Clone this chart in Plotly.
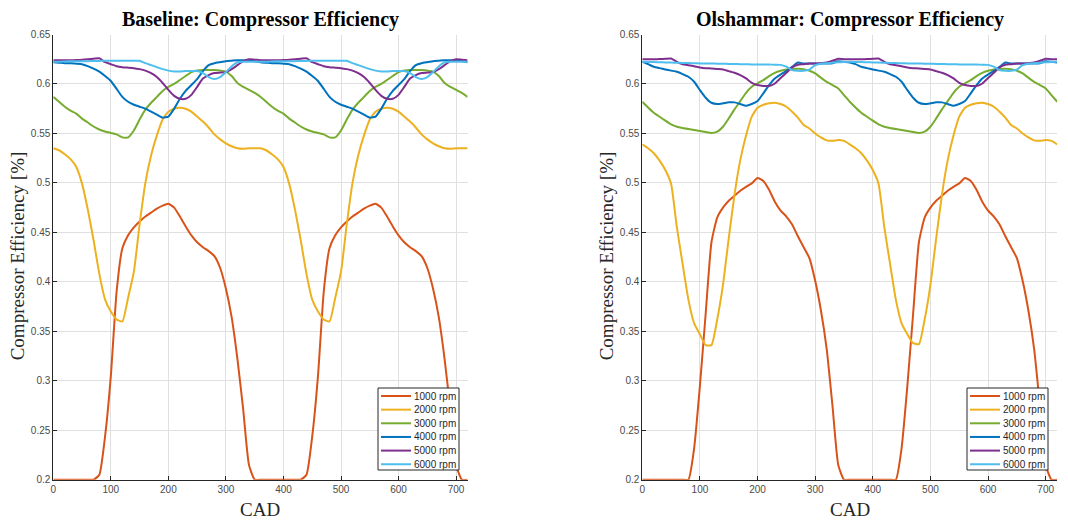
import plotly.graph_objects as go

# Crank angle grid (deg), two engine cycles
cad = list(range(0, 721, 10))

speeds = ["1000 rpm", "2000 rpm", "3000 rpm", "4000 rpm", "5000 rpm", "6000 rpm"]
colors = ["#D95319", "#EDB120", "#77AC30", "#0072BD", "#7E2F8E", "#4DBEEE"]

# ---- Baseline compressor efficiency [-] ----
base_1000 = [0.2, 0.2, 0.2, 0.2, 0.2, 0.2, 0.2, 0.2, 0.205, 0.244, 0.305, 0.39, 0.434, 0.447, 0.455, 0.461, 0.466, 0.470, 0.474, 0.477, 0.479, 0.475, 0.466, 0.456, 0.447, 0.440, 0.435, 0.431, 0.426, 0.414, 0.393, 0.364, 0.322, 0.271, 0.215, 0.2, 0.2,
             0.2, 0.2, 0.2, 0.2, 0.2, 0.2, 0.2, 0.205, 0.244, 0.305, 0.39, 0.434, 0.447, 0.455, 0.461, 0.466, 0.470, 0.474, 0.477, 0.479, 0.475, 0.466, 0.456, 0.447, 0.440, 0.435, 0.431, 0.426, 0.414, 0.393, 0.364, 0.322, 0.271, 0.215, 0.2, 0.2]
base_2000 = [0.535, 0.533, 0.529, 0.524, 0.516, 0.499, 0.473, 0.442, 0.408, 0.382, 0.370, 0.362, 0.360, 0.384, 0.410, 0.458, 0.500, 0.528, 0.548, 0.564, 0.572, 0.575, 0.576, 0.575, 0.572, 0.567, 0.562, 0.556, 0.549, 0.544, 0.540, 0.537, 0.535, 0.5345, 0.535, 0.535, 0.535,
             0.533, 0.529, 0.524, 0.516, 0.499, 0.473, 0.442, 0.408, 0.382, 0.370, 0.362, 0.360, 0.384, 0.410, 0.458, 0.500, 0.528, 0.548, 0.564, 0.572, 0.575, 0.576, 0.575, 0.572, 0.567, 0.562, 0.556, 0.549, 0.544, 0.540, 0.537, 0.535, 0.5345, 0.535, 0.535, 0.535]
base_3000 = [0.587, 0.582, 0.577, 0.573, 0.570, 0.565, 0.561, 0.557, 0.554, 0.552, 0.5505, 0.549, 0.546, 0.546, 0.553, 0.564, 0.574, 0.581, 0.587, 0.593, 0.597, 0.600, 0.604, 0.608, 0.612, 0.6135, 0.614, 0.614, 0.614, 0.6135, 0.6125, 0.608, 0.601, 0.597, 0.594, 0.591, 0.587,
             0.582, 0.577, 0.573, 0.570, 0.565, 0.561, 0.557, 0.554, 0.552, 0.5505, 0.549, 0.546, 0.546, 0.553, 0.564, 0.574, 0.581, 0.587, 0.593, 0.597, 0.600, 0.604, 0.608, 0.612, 0.6135, 0.614, 0.614, 0.614, 0.6135, 0.6125, 0.608, 0.601, 0.597, 0.594, 0.591, 0.587]
base_4000 = [0.622, 0.6215, 0.621, 0.621, 0.6205, 0.620, 0.618, 0.6155, 0.6125, 0.608, 0.603, 0.595, 0.587, 0.582, 0.579, 0.577, 0.575, 0.572, 0.569, 0.566, 0.567, 0.575, 0.585, 0.593, 0.599, 0.605, 0.613, 0.619, 0.621, 0.622, 0.623, 0.6235, 0.624, 0.624, 0.6235, 0.623, 0.622,
             0.6215, 0.621, 0.621, 0.6205, 0.620, 0.618, 0.6155, 0.6125, 0.608, 0.603, 0.595, 0.587, 0.582, 0.579, 0.577, 0.575, 0.572, 0.569, 0.566, 0.567, 0.575, 0.585, 0.593, 0.599, 0.605, 0.613, 0.619, 0.621, 0.622, 0.623, 0.6235, 0.624, 0.624, 0.6235, 0.623, 0.622]
base_5000 = [0.624, 0.624, 0.624, 0.624, 0.6242, 0.6245, 0.625, 0.6255, 0.626, 0.622, 0.620, 0.618, 0.617, 0.6165, 0.616, 0.615, 0.6135, 0.611, 0.607, 0.601, 0.594, 0.588, 0.585, 0.585, 0.589, 0.597, 0.6055, 0.609, 0.611, 0.6115, 0.612, 0.615, 0.619, 0.623, 0.625, 0.6245, 0.624,
             0.624, 0.624, 0.624, 0.6242, 0.6245, 0.625, 0.6255, 0.626, 0.622, 0.620, 0.618, 0.617, 0.6165, 0.616, 0.615, 0.6135, 0.611, 0.607, 0.601, 0.594, 0.588, 0.585, 0.585, 0.589, 0.597, 0.6055, 0.609, 0.611, 0.6115, 0.612, 0.615, 0.619, 0.623, 0.625, 0.6245, 0.624]
base_6000 = [0.6225, 0.6225, 0.6228, 0.623, 0.623, 0.623, 0.623, 0.6232, 0.6233, 0.6234, 0.6235, 0.6235, 0.6235, 0.6235, 0.6235, 0.6235, 0.621, 0.619, 0.617, 0.615, 0.6135, 0.6127, 0.6125, 0.613, 0.613, 0.613, 0.611, 0.607, 0.605, 0.607, 0.612, 0.618, 0.622, 0.6225, 0.6225, 0.6225, 0.6225,
             0.6225, 0.6228, 0.623, 0.623, 0.623, 0.623, 0.6232, 0.6233, 0.6234, 0.6235, 0.6235, 0.6235, 0.6235, 0.6235, 0.6235, 0.621, 0.619, 0.617, 0.615, 0.6135, 0.6127, 0.6125, 0.613, 0.613, 0.613, 0.611, 0.607, 0.605, 0.607, 0.612, 0.618, 0.622, 0.6225, 0.6225, 0.6225, 0.6225]

# ---- Olshammar compressor efficiency [-] ----
olsh_1000 = [0.2, 0.2, 0.2, 0.2, 0.2, 0.2, 0.2, 0.2, 0.2, 0.232, 0.295, 0.368, 0.440, 0.465, 0.475, 0.482, 0.487, 0.492, 0.496, 0.4995, 0.505, 0.502, 0.493, 0.481, 0.472, 0.466, 0.458, 0.446, 0.435, 0.424, 0.401, 0.371, 0.332, 0.275, 0.215, 0.2, 0.2,
             0.2, 0.2, 0.2, 0.2, 0.2, 0.2, 0.2, 0.2, 0.232, 0.295, 0.368, 0.440, 0.465, 0.475, 0.482, 0.487, 0.492, 0.496, 0.4995, 0.505, 0.502, 0.493, 0.481, 0.472, 0.466, 0.458, 0.446, 0.435, 0.424, 0.401, 0.371, 0.332, 0.275, 0.215, 0.2, 0.2]
olsh_2000 = [0.539, 0.535, 0.530, 0.5225, 0.513, 0.499, 0.455, 0.418, 0.382, 0.358, 0.347, 0.336, 0.336, 0.362, 0.397, 0.444, 0.488, 0.523, 0.548, 0.567, 0.576, 0.579, 0.5805, 0.581, 0.5797, 0.577, 0.572, 0.566, 0.5585, 0.555, 0.550, 0.546, 0.543, 0.5425, 0.5434, 0.5425, 0.539,
             0.535, 0.530, 0.5225, 0.513, 0.499, 0.455, 0.418, 0.382, 0.358, 0.347, 0.338, 0.337, 0.362, 0.397, 0.444, 0.488, 0.523, 0.548, 0.567, 0.576, 0.579, 0.5805, 0.581, 0.5797, 0.577, 0.572, 0.566, 0.5585, 0.555, 0.550, 0.546, 0.543, 0.5425, 0.5434, 0.5425, 0.539]
olsh_3000 = [0.582, 0.5763, 0.571, 0.5669, 0.5629, 0.5592, 0.5568, 0.5555, 0.5545, 0.5535, 0.5525, 0.5514, 0.5504, 0.5518, 0.5568, 0.5652, 0.5743, 0.5827, 0.5911, 0.5972, 0.6006, 0.6039, 0.608, 0.6113, 0.6133, 0.6147, 0.615, 0.6154, 0.615, 0.6133, 0.6106, 0.6063, 0.6022, 0.5989, 0.5955, 0.5888, 0.582,
             0.5763, 0.571, 0.5669, 0.5629, 0.5592, 0.5568, 0.5555, 0.5545, 0.5535, 0.5525, 0.5514, 0.5504, 0.5518, 0.5568, 0.5652, 0.5743, 0.5827, 0.5911, 0.5972, 0.6006, 0.6039, 0.608, 0.6113, 0.6133, 0.6147, 0.615, 0.6154, 0.615, 0.6133, 0.6106, 0.6063, 0.6022, 0.5989, 0.5955, 0.5888, 0.582]
olsh_4000 = [0.6224, 0.620, 0.6174, 0.616, 0.6147, 0.6135, 0.6123, 0.610, 0.6073, 0.6022, 0.5938, 0.5861, 0.581, 0.5797, 0.5804, 0.5814, 0.5814, 0.5797, 0.578, 0.5797, 0.5827, 0.5905, 0.5989, 0.6056, 0.6096, 0.6133, 0.6174, 0.6217, 0.6207, 0.6207, 0.6207, 0.6207, 0.6207, 0.621, 0.623, 0.6224, 0.6217,
             0.620, 0.6174, 0.616, 0.6147, 0.6135, 0.6123, 0.610, 0.6073, 0.6022, 0.5938, 0.5861, 0.581, 0.5797, 0.5804, 0.5814, 0.5814, 0.5797, 0.578, 0.5797, 0.5827, 0.5905, 0.5989, 0.6056, 0.6096, 0.6133, 0.6174, 0.6217, 0.6207, 0.6207, 0.6207, 0.6207, 0.6207, 0.621, 0.623, 0.6224, 0.6217]
olsh_5000 = [0.625, 0.625, 0.625, 0.6252, 0.6255, 0.6258, 0.6224, 0.620, 0.619, 0.618, 0.6167, 0.616, 0.6157, 0.6152, 0.6147, 0.613, 0.6113, 0.609, 0.6056, 0.6012, 0.5989, 0.598, 0.598, 0.6005, 0.606, 0.6113, 0.6167, 0.6194, 0.620, 0.6207, 0.6207, 0.621, 0.6217, 0.6234, 0.6254, 0.625, 0.625,
             0.625, 0.625, 0.6252, 0.6255, 0.6258, 0.6224, 0.620, 0.619, 0.618, 0.6167, 0.616, 0.6157, 0.6152, 0.6147, 0.613, 0.6113, 0.609, 0.6056, 0.6012, 0.5989, 0.598, 0.598, 0.6005, 0.606, 0.6113, 0.6167, 0.6194, 0.620, 0.6207, 0.6207, 0.621, 0.6217, 0.6234, 0.6254, 0.625, 0.625]
olsh_6000 = [0.6224, 0.6222, 0.6221, 0.622, 0.6218, 0.6216, 0.6215, 0.6213, 0.6211, 0.621, 0.6208, 0.6207, 0.6207, 0.6205, 0.6204, 0.6203, 0.6202, 0.620, 0.6199, 0.6198, 0.6198, 0.6197, 0.6196, 0.6195, 0.6193, 0.6175, 0.614, 0.6133, 0.6133, 0.6145, 0.619, 0.6205, 0.621, 0.6214, 0.6219, 0.6222, 0.6224,
             0.6222, 0.6221, 0.622, 0.6218, 0.6216, 0.6215, 0.6213, 0.6211, 0.621, 0.6208, 0.6207, 0.6207, 0.6205, 0.6204, 0.6203, 0.6202, 0.620, 0.6199, 0.6198, 0.6198, 0.6197, 0.6196, 0.6195, 0.6193, 0.6175, 0.614, 0.6133, 0.6133, 0.6145, 0.619, 0.6205, 0.621, 0.6214, 0.6219, 0.6222, 0.6224]

baseline = [base_1000, base_2000, base_3000, base_4000, base_5000, base_6000]
olshammar = [olsh_1000, olsh_2000, olsh_3000, olsh_4000, olsh_5000, olsh_6000]

W, H = 1068, 522
SERIF = "Liberation Serif, Times New Roman, serif"
SANS = "Liberation Sans, Arial, sans-serif"
INK = "#262626"

# plot-area placement in pixels: (left, right) per panel, shared (top, bottom)
panels = [(53.3, 467.6), (642.3, 1057.2)]
top_px, bot_px = 34.5, 479.7

fig = go.Figure()

for k, (series, axsuffix) in enumerate([(baseline, ""), (olshammar, "2")]):
    for name, col, vals in zip(speeds, colors, series):
        fig.add_trace(go.Scatter(
            x=cad, y=vals, mode="lines", name=name, showlegend=False,
            line=dict(color=col, width=2, shape="spline", smoothing=0.5),
            xaxis="x" + axsuffix, yaxis="y" + axsuffix,
        ))


def axis(domain, rng, dtick, anchor):
    return dict(
        domain=domain, range=rng, dtick=dtick, tick0=0, anchor=anchor,
        automargin=False,
        showline=True, linecolor=INK, linewidth=1, mirror=False,
        ticks="inside", ticklen=4, tickcolor=INK, tickwidth=1,
        showgrid=True, gridcolor="#e0e0e0", gridwidth=1, zeroline=False,
        tickfont=dict(family=SANS, size=10, color="#4a4a4a"),
        layer="below traces", fixedrange=True,
    )


ydom = [1 - bot_px / H, 1 - top_px / H]
layout = dict(
    width=W, height=H, margin=dict(l=0, r=0, t=0, b=0, pad=0, autoexpand=False),
    paper_bgcolor="white", plot_bgcolor="white", showlegend=False,
)
for k, (l, r) in enumerate(panels):
    sfx = "" if k == 0 else "2"
    layout["xaxis" + sfx] = axis([l / W, r / W], [0, 720], 100, "y" + sfx)
    layout["yaxis" + sfx] = axis(ydom, [0.2, 0.65], 0.05, "x" + sfx)

fig.update_layout(**layout)

titles = ["Baseline: Compressor Efficiency", "Olshammar: Compressor Efficiency"]
shapes, notes = [], []
for k, (l, r) in enumerate(panels):
    cx = (l + r) / 2
    notes.append(dict(text="<b>" + titles[k] + "</b>", x=cx / W, y=1 - 20 / H,
                      xref="paper", yref="paper", xanchor="center", yanchor="middle",
                      showarrow=False, font=dict(family=SERIF, size=20, color="black")))
    notes.append(dict(text="CAD", x=cx / W, y=1 - 509 / H,
                      xref="paper", yref="paper", xanchor="center", yanchor="middle",
                      showarrow=False, font=dict(family=SERIF, size=19, color=INK)))
    notes.append(dict(text="Compressor Efficiency [%]", x=(l - 35) / W, y=1 - 256 / H,
                      xref="paper", yref="paper", xanchor="center", yanchor="middle",
                      textangle=-90, showarrow=False,
                      font=dict(family=SERIF, size=19, color=INK)))

    # legend box in the lower-right corner of each panel
    bx0, bx1 = l + 324.7, l + 405.7
    by0, by1 = 388, 470
    shapes.append(dict(type="rect", xref="paper", yref="paper",
                       x0=bx0 / W, x1=bx1 / W, y0=1 - by1 / H, y1=1 - by0 / H,
                       fillcolor="white", line=dict(color=INK, width=1), layer="above"))
    for i, (name, col) in enumerate(zip(speeds, colors)):
        ry = 396 + 13.65 * i
        shapes.append(dict(type="line", xref="paper", yref="paper",
                           x0=(bx0 + 3) / W, x1=(bx0 + 33) / W,
                           y0=1 - ry / H, y1=1 - ry / H,
                           line=dict(color=col, width=2), layer="above"))
        notes.append(dict(text=name, x=(bx0 + 34) / W, y=1 - ry / H,
                          xref="paper", yref="paper", xanchor="left", yanchor="middle",
                          showarrow=False, font=dict(family=SANS, size=10, color=INK)))

fig.update_layout(shapes=shapes, annotations=notes)

fig.write_html("out.html")
